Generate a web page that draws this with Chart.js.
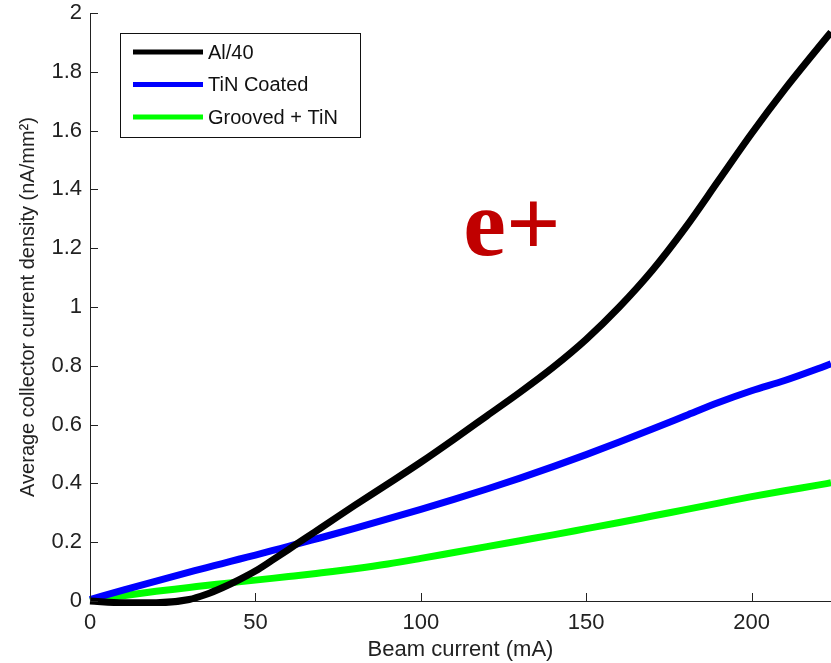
<!DOCTYPE html>
<html>
<head>
<meta charset="utf-8">
<script src="https://cdn.jsdelivr.net/npm/chart.js@4"></script>
<style>
  html, body { margin: 0; padding: 0; background: #fff; }
  #wrap { width: 831px; height: 663px; }
</style>
</head>
<body>
<div id="wrap"><canvas id="collectorChart"></canvas></div>
<script>
// beam current (mA) sample points shared by all three curves
const beamCurrent = [0, 10, 20, 30, 35, 40, 45, 50, 55, 60, 65, 70, 80, 90, 100, 110, 120, 130, 140, 150, 160, 170, 180, 190, 200, 210, 220, 224];
const al40 = [0, -0.006, -0.006, 0.005, 0.022, 0.045, 0.072, 0.102, 0.138, 0.175, 0.213, 0.25, 0.325, 0.398, 0.472, 0.55, 0.63, 0.71, 0.795, 0.89, 1.0, 1.125, 1.27, 1.43, 1.59, 1.74, 1.88, 1.935];
const tinCoated = [0.005, 0.037, 0.068, 0.098, 0.113, 0.127, 0.142, 0.156, 0.171, 0.186, 0.201, 0.216, 0.247, 0.279, 0.312, 0.346, 0.381, 0.418, 0.457, 0.498, 0.541, 0.585, 0.63, 0.675, 0.715, 0.75, 0.79, 0.807];
const groovedTin = [0.002, 0.018, 0.033, 0.046, 0.053, 0.059, 0.065, 0.071, 0.077, 0.083, 0.089, 0.096, 0.11, 0.126, 0.145, 0.165, 0.185, 0.205, 0.225, 0.246, 0.267, 0.289, 0.311, 0.333, 0.355, 0.375, 0.394, 0.402];

const xTicks = [0, 50, 100, 150, 200];
const yTicks = [0, 0.2, 0.4, 0.6, 0.8, 1, 1.2, 1.4, 1.6, 1.8, 2];

const seriesLabels = ["Al/40", "TiN Coated", "Grooved + TiN"];
const seriesColors = ["#000000", "#0000ff", "#00ff00"];

const FONT = "'Liberation Sans', Arial, sans-serif";
const toPoints = (ys) => beamCurrent.map((x, i) => ({ x: x, y: ys[i] }));

// MATLAB style inward tick marks
const inwardTicks = {
  id: "inwardTicks",
  afterDatasetsDraw(chart) {
    const { ctx, chartArea, scales } = chart;
    ctx.save();
    ctx.strokeStyle = "#222";
    ctx.lineWidth = 1;
    ctx.beginPath();
    xTicks.forEach((v) => {
      const px = Math.round(scales.x.getPixelForValue(v)) + 0.5;
      ctx.moveTo(px, chartArea.bottom);
      ctx.lineTo(px, chartArea.bottom - 8);
    });
    yTicks.forEach((v) => {
      const py = Math.round(scales.y.getPixelForValue(v)) + 0.5;
      ctx.moveTo(chartArea.left, py);
      ctx.lineTo(chartArea.left + 8, py);
    });
    ctx.stroke();
    ctx.restore();
  },
};

// boxed legend in the upper-left corner of the axes
const boxLegend = {
  id: "boxLegend",
  afterDatasetsDraw(chart) {
    const { ctx } = chart;
    const x0 = 120.5, y0 = 33.5, w = 240, h = 104;
    ctx.save();
    ctx.fillStyle = "#fff";
    ctx.fillRect(x0, y0, w, h);
    ctx.strokeStyle = "#111";
    ctx.lineWidth = 1;
    ctx.strokeRect(x0, y0, w, h);
    ctx.font = "20px " + FONT;
    ctx.textBaseline = "middle";
    chart.data.datasets.forEach((ds, i) => {
      const y = 52 + i * 32.5;
      ctx.strokeStyle = ds.borderColor;
      ctx.lineWidth = 5;
      ctx.beginPath();
      ctx.moveTo(133, y);
      ctx.lineTo(203, y);
      ctx.stroke();
      ctx.fillStyle = "#111";
      ctx.fillText(ds.label, 208, y + 1);
    });
    ctx.restore();
  },
};

// "e+" annotation
const particleLabel = {
  id: "particleLabel",
  afterDatasetsDraw(chart) {
    const { ctx } = chart;
    ctx.save();
    ctx.fillStyle = "#c00000";
    ctx.font = "bold 96px 'Liberation Serif', 'Times New Roman', serif";
    ctx.textAlign = "center";
    ctx.textBaseline = "alphabetic";
    ctx.fillText("e+", 512, 255);
    ctx.restore();
  },
};

new Chart(document.getElementById("collectorChart"), {
  type: "line",
  data: {
    datasets: [al40, tinCoated, groovedTin].map((ys, i) => ({
      label: seriesLabels[i],
      data: toPoints(ys),
      borderColor: seriesColors[i],
      backgroundColor: seriesColors[i],
      borderWidth: 7,
      pointRadius: 0,
      cubicInterpolationMode: "monotone",
      fill: false,
      clip: 5,
    })),
  },
  options: {
    responsive: true,
    maintainAspectRatio: false,
    animation: false,
    layout: { padding: { top: 13, right: 0, left: 0, bottom: 0 } },
    scales: {
      x: {
        type: "linear",
        min: 0,
        max: 224,
        afterBuildTicks: (scale) => {
          scale.ticks = xTicks.map((v) => ({ value: v }));
        },
        afterFit: (scale) => {
          scale.height = 62;
          scale.paddingRight = 0;
        },
        grid: { display: false, drawTicks: false },
        border: { display: true, color: "#222", width: 1 },
        ticks: {
          padding: 9,
          color: "#222",
          font: { family: FONT, size: 22 },
          maxRotation: 0,
        },
        title: {
          display: true,
          text: "Beam current (mA)",
          color: "#222",
          font: { family: FONT, size: 22 },
          padding: { top: 0, bottom: 0 },
        },
      },
      y: {
        min: 0,
        max: 2,
        afterBuildTicks: (scale) => {
          scale.ticks = yTicks.map((v) => ({ value: v }));
        },
        afterFit: (scale) => {
          scale.width = 90;
          scale.paddingTop = 0;
          scale.paddingBottom = 0;
        },
        grid: { display: false, drawTicks: false },
        border: { display: true, color: "#222", width: 1 },
        ticks: {
          padding: 8,
          color: "#222",
          font: { family: FONT, size: 22 },
          callback: (v) => String(Math.round(v * 10) / 10),
        },
        title: {
          display: true,
          text: "Average collector current density (nA/mm²)",
          color: "#222",
          font: { family: FONT, size: 20 },
          padding: { top: 16, bottom: 0 },
        },
      },
    },
    plugins: {
      legend: { display: false },
      tooltip: { enabled: false },
    },
  },
  plugins: [inwardTicks, boxLegend, particleLabel],
});
</script>
</body>
</html>
